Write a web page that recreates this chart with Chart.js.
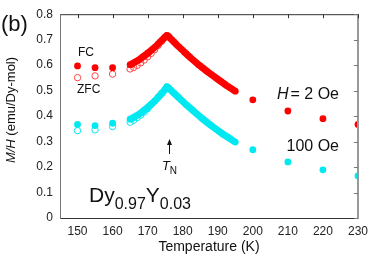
<!DOCTYPE html>
<html>
<head>
<meta charset="utf-8">
<script src="https://cdn.jsdelivr.net/npm/chart.js@4/dist/chart.umd.min.js"></script>
<style>
html,body{margin:0;padding:0;background:#fff;}
canvas{display:block;}
</style>
</head>
<body>
<canvas id="c" width="374" height="262"></canvas>
<script>
// ---- data (temperature in K, M/H in emu/Dy-mol) ----
const tLow = [150, 155, 160];
const tDense = [165,165.5,166,166.5,167,167.5,168,168.5,169,169.5,170,170.5,171,171.5,172,172.5,173,173.5,174,174.5,175,175.5,176,176.5,177,177.5,178,178.5,179,179.5,180,180.5,181,181.5,182,182.5,183,183.5,184,184.5,185,185.5,186,186.5,187,187.5,188,188.5,189,189.5,190,190.5,191,191.5,192,192.5,193,193.5,194,194.5,195];
const tDenseZfc = [165,166,167,168,169,170,171,172,173,174,175,175.5,176];
const tHigh = [200, 210, 220, 230];

const fc2Low = [0.597, 0.590, 0.590];
const fc2Dense = [0.602,0.605,0.609,0.613,0.617,0.621,0.626,0.631,0.636,0.641,0.647,0.652,0.658,0.664,0.670,0.676,0.683,0.690,0.697,0.704,0.711,0.717,0.712,0.705,0.698,0.691,0.684,0.677,0.671,0.664,0.658,0.651,0.645,0.638,0.632,0.626,0.620,0.614,0.608,0.602,0.597,0.591,0.586,0.580,0.575,0.570,0.565,0.560,0.555,0.550,0.545,0.540,0.535,0.530,0.525,0.520,0.516,0.511,0.507,0.502,0.498];
const fc2High = [0.464, 0.420, 0.390, 0.367];

const zfc2Low = [0.551, 0.558, 0.565];
const zfc2Dense = [0.585,0.591,0.599,0.609,0.620,0.633,0.646,0.661,0.677,0.694,0.709,0.716,0.712];

const fc100Low = [0.367, 0.363, 0.372];
const fc100Dense = [0.388,0.391,0.395,0.399,0.403,0.407,0.412,0.417,0.423,0.428,0.434,0.440,0.446,0.452,0.459,0.466,0.474,0.481,0.489,0.497,0.505,0.515,0.510,0.503,0.497,0.490,0.484,0.477,0.471,0.464,0.458,0.451,0.445,0.439,0.433,0.427,0.421,0.415,0.409,0.403,0.397,0.391,0.386,0.380,0.375,0.369,0.364,0.359,0.354,0.349,0.344,0.339,0.334,0.329,0.325,0.320,0.316,0.311,0.307,0.302,0.298];
const fc100High = [0.268, 0.220, 0.189, 0.165];

const zfc100Low = [0.343, 0.346, 0.359];
const zfc100Dense = [0.376,0.384,0.394,0.404,0.416,0.429,0.446,0.459,0.474,0.489,0.505,0.515,0.510];

const xTicks = [150,160,170,180,190,200,210,220,230];
const yTicks = [0,0.1,0.2,0.3,0.4,0.5,0.6,0.7,0.8];
const yTickLabels = ['0','0.1','0.2','0.3','0.4','0.5','0.6','0.7','0.8'];

function pts(ts, vs){ return ts.map((t,i)=>({x:t, y:vs[i]})); }

const RED = 'rgb(255,0,0)';
const CYAN = 'rgb(0,232,240)';
const FONT = '"Liberation Sans", Arial, Helvetica, sans-serif';

const annot = {
  id: 'annot',
  afterDraw(chart){
    const ctx = chart.ctx, a = chart.chartArea;
    const xs = chart.scales.x, ys = chart.scales.y;
    ctx.save();
    // frame
    ctx.lineWidth = 1;
    ctx.strokeStyle = '#333';
    ctx.beginPath();
    ctx.moveTo(a.left, a.top+0.5); ctx.lineTo(a.right, a.top+0.5);
    ctx.moveTo(a.left, a.bottom+0.5); ctx.lineTo(a.right, a.bottom+0.5);
    ctx.stroke();
    ctx.strokeStyle = '#777';
    ctx.beginPath();
    ctx.moveTo(a.left+0.5, a.top); ctx.lineTo(a.left+0.5, a.bottom+1);
    ctx.stroke();
    ctx.strokeStyle = '#999';
    ctx.lineWidth = 2;
    ctx.beginPath();
    ctx.moveTo(a.right, a.top); ctx.lineTo(a.right, a.bottom+1);
    ctx.stroke();
    // inward mirror ticks (top, right)
    ctx.lineWidth = 1;
    ctx.strokeStyle = '#333';
    ctx.beginPath();
    xTicks.forEach(v=>{ const px = Math.round(xs.getPixelForValue(v))+0.5; ctx.moveTo(px, a.top); ctx.lineTo(px, a.top+4); });
    ctx.stroke();
    ctx.strokeStyle = '#777';
    ctx.beginPath();
    yTicks.forEach(v=>{ const py = Math.round(ys.getPixelForValue(v))+0.5; ctx.moveTo(a.right, py); ctx.lineTo(a.right-4, py); });
    ctx.stroke();

    ctx.fillStyle = '#111';
    ctx.textBaseline = 'middle';
    ctx.textAlign = 'left';
    // (b)
    ctx.font = '22px ' + FONT;
    ctx.fillText('(b)', 1, 25);
    // FC / ZFC
    ctx.font = '12px ' + FONT;
    ctx.fillText('FC', 78, 53);
    ctx.fillText('ZFC', 77, 90);
    // H = 2 Oe (right aligned at 339)
    ctx.font = 'italic 16px ' + FONT;
    const wH = ctx.measureText('H').width;
    ctx.font = '16px ' + FONT;
    const rest = '= 2 Oe';
    const wR = ctx.measureText(rest).width;
    let x0 = 339 - wH - wR - 2;
    ctx.font = 'italic 16px ' + FONT;
    ctx.fillText('H', x0, 95);
    ctx.font = '16px ' + FONT;
    ctx.fillText(rest, x0 + wH + 2, 95);
    // 100 Oe
    ctx.textAlign = 'right';
    ctx.fillText('100 Oe', 339, 147);
    ctx.textAlign = 'left';
    // T_N arrow
    const ax = Math.round(xs.getPixelForValue(176.2)) + 0.5;
    ctx.strokeStyle = '#111';
    ctx.lineWidth = 1;
    ctx.beginPath(); ctx.moveTo(ax, 142); ctx.lineTo(ax, 154); ctx.stroke();
    ctx.beginPath(); ctx.moveTo(ax, 139); ctx.lineTo(ax-2.5, 145); ctx.lineTo(ax+2.5, 145); ctx.closePath(); ctx.fill();
    ctx.font = 'italic 13px ' + FONT;
    const wT = ctx.measureText('T').width;
    ctx.font = '10px ' + FONT;
    const wN = ctx.measureText('N').width;
    const tx = ax - (wT + wN)/2;
    ctx.textBaseline = 'alphabetic';
    ctx.font = 'italic 13px ' + FONT;
    ctx.fillText('T', tx, 170);
    ctx.font = '10px ' + FONT;
    ctx.fillText('N', tx + wT, 174);
    // Dy0.97Y0.03
    let cx = 89; const base = 202;
    const parts = [['Dy',21,0],['0.97',16,6.5],['Y',21,0],['0.03',16,6.5]];
    parts.forEach(p=>{ ctx.font = p[1]+'px ' + FONT; ctx.fillText(p[0], cx, base + p[2]); cx += ctx.measureText(p[0]).width; });
    // y axis title rotated
    ctx.save();
    ctx.translate(11, 110);
    ctx.rotate(-Math.PI/2);
    ctx.textBaseline = 'middle';
    ctx.font = 'italic 13px ' + FONT;
    const t1 = 'M/H';
    const w1 = ctx.measureText(t1).width;
    ctx.font = '13px ' + FONT;
    const t2 = ' (emu/Dy-mol)';
    const w2 = ctx.measureText(t2).width;
    let sx = -(w1 + w2)/2;
    ctx.font = 'italic 13px ' + FONT;
    ctx.fillText(t1, sx, 0);
    ctx.font = '13px ' + FONT;
    ctx.fillText(t2, sx + w1, 0);
    ctx.restore();
    ctx.restore();
  }
};

const filled = (color) => ({ pointRadius: 3.4, pointHoverRadius: 3.4, pointBackgroundColor: color, pointBorderWidth: 0, borderColor: color, backgroundColor: color, showLine: false });
const open = (color) => ({ pointRadius: 3.2, pointHoverRadius: 3.2, pointBackgroundColor: 'rgba(255,255,255,0)', pointBorderColor: color, pointBorderWidth: 1, borderColor: color, backgroundColor: 'rgba(0,0,0,0)', showLine: false });

new Chart(document.getElementById('c'), {
  type: 'scatter',
  data: {
    datasets: [
      Object.assign({ label: 'FC 2 Oe', data: pts(tLow.concat(tDense, tHigh), fc2Low.concat(fc2Dense, fc2High)) }, filled(RED)),
      Object.assign({ label: 'FC 100 Oe', data: pts(tLow.concat(tDense, tHigh), fc100Low.concat(fc100Dense, fc100High)) }, filled(CYAN)),
      Object.assign({ label: 'ZFC 2 Oe', data: pts(tLow.concat(tDenseZfc), zfc2Low.concat(zfc2Dense)) }, open('rgb(255,70,70)')),
      Object.assign({ label: 'ZFC 100 Oe', data: pts(tLow.concat(tDenseZfc), zfc100Low.concat(zfc100Dense)) }, open(CYAN))
    ]
  },
  options: {
    responsive: false,
    animation: false,
    devicePixelRatio: 1,
    layout: { padding: { left: 0, right: 16, top: 13, bottom: 0 } },
    plugins: { legend: { display: false }, tooltip: { enabled: false } },
    scales: {
      x: {
        type: 'linear', min: 145, max: 230,
        grid: { display: false, drawTicks: false },
        border: { display: false },
        afterBuildTicks: s => { s.ticks = xTicks.map(v => ({ value: v })); },
        afterFit: s => { s.height = 44; },
        ticks: { font: { family: FONT, size: 12 }, color: '#222', padding: 6, maxRotation: 0, autoSkip: false },
        title: { display: true, text: 'Temperature (K)', font: { family: FONT, size: 14 }, color: '#111', padding: { top: 0, bottom: 6 } }
      },
      y: {
        type: 'linear', min: 0, max: 0.8,
        grid: { display: false, drawTicks: false },
        border: { display: false },
        afterBuildTicks: s => { s.ticks = yTicks.map(v => ({ value: v })); },
        afterFit: s => { s.width = 60; },
        ticks: { font: { family: FONT, size: 12 }, color: '#222', padding: 7, autoSkip: false,
          callback: (v) => { const i = yTicks.findIndex(t => Math.abs(t - v) < 1e-9); return i >= 0 ? yTickLabels[i] : ''; } }
      }
    }
  },
  plugins: [annot]
});
</script>
</body>
</html>
